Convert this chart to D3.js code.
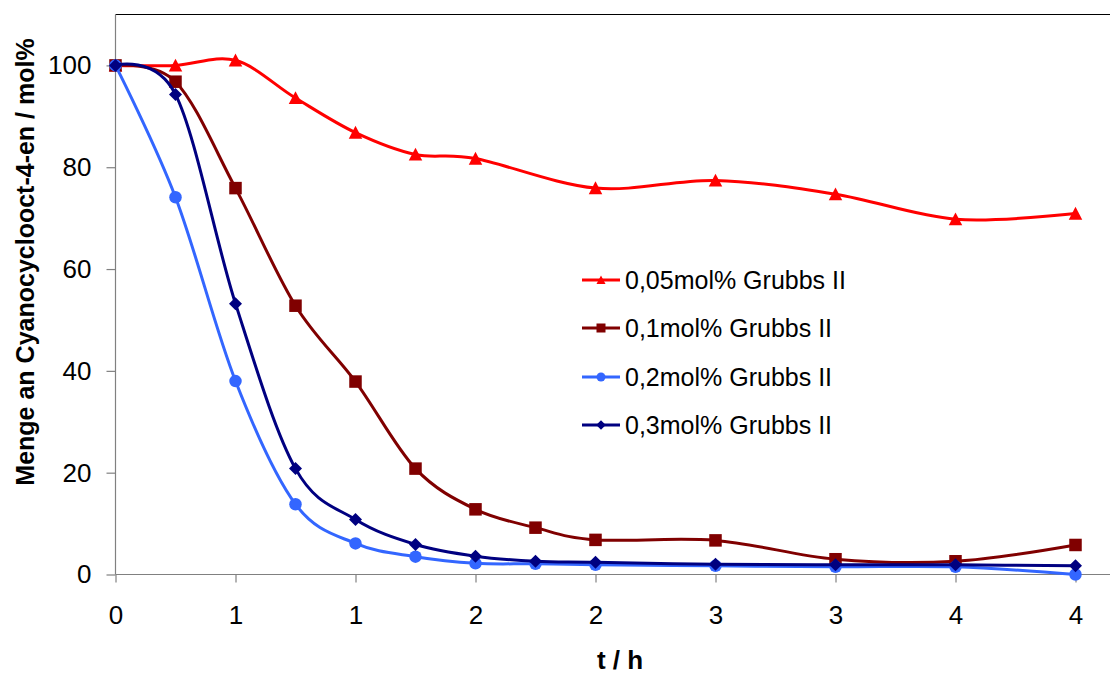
<!DOCTYPE html>
<html>
<head>
<meta charset="utf-8">
<script src="https://cdn.jsdelivr.net/npm/d3@7"></script>
<style>
  html, body { margin: 0; padding: 0; background: #fff; }
  svg { display: block; font-family: "Liberation Sans", Arial, sans-serif; }
</style>
</head>
<body>
<svg id="chart" width="1110" height="676"></svg>
<script>
// ---- data ----
const timesRed = [0, 0.25, 0.5, 0.75, 1, 1.25, 1.5, 2, 2.5, 3, 3.5, 4];
const timesOther = [0, 0.25, 0.5, 0.75, 1, 1.25, 1.5, 1.75, 2, 2.5, 3, 3.5, 4];
const cat005 = [100, 100, 101, 93.6, 86.8, 82.5, 81.7, 75.9, 77.4, 74.7, 69.8, 70.9];
const cat01  = [100, 96.8, 75.9, 52.8, 37.9, 20.8, 12.8, 9.2, 6.8, 6.7, 3.0, 2.6, 5.8];
const cat02  = [100, 74.1, 38.0, 13.8, 6.1, 3.5, 2.2, 2.1, 1.9, 1.7, 1.5, 1.5, 0];
const cat03  = [100, 94.3, 53.2, 20.8, 10.8, 5.9, 3.6, 2.6, 2.4, 2.0, 1.9, 1.9, 1.7];
const seriesNames = ["0,05mol% Grubbs II", "0,1mol% Grubbs II", "0,2mol% Grubbs II", "0,3mol% Grubbs II"];
const xTickValues = [0, 0.5, 1, 1.5, 2, 2.5, 3, 3.5, 4];
const xTickLabels = ["0", "1", "1", "2", "2", "3", "3", "4", "4"];
const yTickValues = [0, 20, 40, 60, 80, 100];
const xTitle = "t / h";
const yTitle = "Menge an Cyanocyclooct-4-en / mol%";

const series = [
  { name: seriesNames[0], t: timesRed,   v: cat005, color: "#FF0000", marker: "triangle" },
  { name: seriesNames[1], t: timesOther, v: cat01,  color: "#800000", marker: "square" },
  { name: seriesNames[2], t: timesOther, v: cat02,  color: "#3366FF", marker: "circle" },
  { name: seriesNames[3], t: timesOther, v: cat03,  color: "#000080", marker: "diamond" }
];

// ---- layout ----
const svg = d3.select("#chart");
const plotLeft = 115.5, plotTop = 14.5, plotBottom = 574.5, rightEdge = 1110;
const x = d3.scaleLinear().domain([0, 4]).range([plotLeft, 1075.5]);
const y = d3.scaleLinear().domain([0, 110]).range([plotBottom, plotTop]);

svg.append("rect").attr("width", 1110).attr("height", 676).attr("fill", "#fff");

// top border
svg.append("line").attr("x1", plotLeft).attr("x2", rightEdge).attr("y1", plotTop).attr("y2", plotTop)
  .attr("stroke", "#000").attr("stroke-width", 1.2);

// x axis
const xAxis = d3.axisBottom(x).tickValues(xTickValues)
  .tickFormat((d, i) => xTickLabels[i]).tickSizeInner(8).tickSizeOuter(0).tickPadding(23);
const gx = svg.append("g").attr("transform", `translate(0,${plotBottom})`).call(xAxis);
gx.select(".domain").remove();
gx.append("line").attr("x1", plotLeft).attr("x2", rightEdge).attr("stroke", "#808080").attr("stroke-width", 1.2);
gx.selectAll(".tick line").attr("stroke", "#808080").attr("stroke-width", 1.2);
gx.selectAll(".tick text").attr("fill", "#000").style("font-size", "26px")
  .style("font-family", "'Liberation Sans', Arial, sans-serif");

// y axis
const yAxis = d3.axisLeft(y).tickValues(yTickValues).tickSizeInner(9).tickSizeOuter(0).tickPadding(15);
const gy = svg.append("g").attr("transform", `translate(${plotLeft},0)`).call(yAxis);
gy.select(".domain").remove();
gy.append("line").attr("y1", plotTop).attr("y2", plotBottom).attr("stroke", "#808080").attr("stroke-width", 1.2);
gy.selectAll(".tick line").attr("stroke", "#808080").attr("stroke-width", 1.2);
gy.selectAll(".tick text").attr("fill", "#000").style("font-size", "26px")
  .style("font-family", "'Liberation Sans', Arial, sans-serif");

// titles
svg.append("text").attr("x", 620).attr("y", 669).attr("text-anchor", "middle")
  .style("font-size", "26px").style("font-weight", "bold").text(xTitle);
svg.append("text").attr("transform", "translate(34,262) rotate(-90)").attr("text-anchor", "middle")
  .style("font-size", "25px").style("font-weight", "bold").text(yTitle);

// marker drawing
function drawMarker(g, type, cx, cy, size, color) {
  const s = size / 2;
  if (type === "triangle") {
    g.append("path").attr("d", `M${cx},${cy - s}L${cx + s},${cy + s * 0.9}L${cx - s},${cy + s * 0.9}Z`).attr("fill", color);
  } else if (type === "square") {
    g.append("rect").attr("x", cx - s).attr("y", cy - s).attr("width", size).attr("height", size).attr("fill", color);
  } else if (type === "circle") {
    g.append("circle").attr("cx", cx).attr("cy", cy).attr("r", s).attr("fill", color);
  } else if (type === "diamond") {
    g.append("path").attr("d", `M${cx},${cy - s}L${cx + s},${cy}L${cx},${cy + s}L${cx - s},${cy}Z`).attr("fill", color);
  }
}

const line = d3.line().x(d => x(d[0])).y(d => y(d[1])).curve(d3.curveCatmullRom.alpha(0));

series.forEach(s => {
  const pts = s.t.map((t, i) => [t, s.v[i]]);
  const g = svg.append("g");
  g.append("path").attr("d", line(pts)).attr("fill", "none")
    .attr("stroke", s.color).attr("stroke-width", 3);
  const size = s.marker === "diamond" ? 13 : (s.marker === "triangle" ? 13.5 : 12.5);
  pts.forEach(p => drawMarker(g, s.marker, x(p[0]), y(p[1]), size, s.color));
});

// legend
const legendY = [280, 328, 377, 425];
series.forEach((s, i) => {
  const g = svg.append("g");
  const cy = legendY[i];
  g.append("line").attr("x1", 582).attr("x2", 620).attr("y1", cy).attr("y2", cy)
    .attr("stroke", s.color).attr("stroke-width", 3);
  drawMarker(g, s.marker, 601, cy, s.marker === "diamond" ? 9.5 : 9, s.color);
  g.append("text").attr("x", 625).attr("y", cy).attr("dy", "0.36em")
    .style("font-size", "25px").attr("fill", "#000").text(s.name);
});
</script>
</body>
</html>
